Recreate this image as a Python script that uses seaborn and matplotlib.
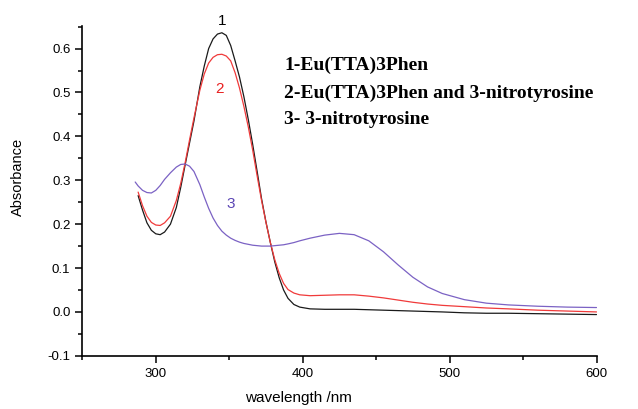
import numpy as np
import pandas as pd
import matplotlib
matplotlib.use("Agg")
import matplotlib.pyplot as plt
from matplotlib.ticker import MultipleLocator, FormatStrFormatter
import seaborn as sns

# Wavelength grid (nm) shared by the three spectra
wavelength = [286, 288, 291, 294, 297, 300, 303, 306, 310, 314, 317, 320, 323, 326,
              330, 333, 336, 339, 342, 345, 348, 351, 354, 357, 360, 363, 366, 369,
              372, 375, 378, 381, 384, 387, 390, 394, 398, 405, 415, 425, 435, 445,
              455, 465, 475, 485, 495, 510, 525, 540, 560, 580, 600]

# 1 - Eu(TTA)3Phen
abs_complex = [np.nan, 0.265, 0.232, 0.203, 0.186, 0.178, 0.176, 0.182, 0.200, 0.238,
               0.284, 0.335, 0.385, 0.435, 0.513, 0.560, 0.600, 0.622, 0.633, 0.636,
               0.630, 0.607, 0.572, 0.535, 0.490, 0.438, 0.381, 0.320, 0.258, 0.205,
               0.158, 0.114, 0.078, 0.050, 0.031, 0.017, 0.011, 0.007, 0.006, 0.006,
               0.006, 0.005, 0.004, 0.003, 0.002, 0.001, 0.000, -0.002, -0.003, -0.003,
               -0.004, -0.005, -0.006]

# 2 - Eu(TTA)3Phen and 3-nitrotyrosine
abs_mixture = [np.nan, 0.273, 0.242, 0.218, 0.204, 0.198, 0.197, 0.203, 0.218, 0.254,
               0.293, 0.340, 0.392, 0.442, 0.505, 0.542, 0.567, 0.580, 0.586, 0.587,
               0.583, 0.572, 0.545, 0.510, 0.468, 0.421, 0.368, 0.310, 0.254, 0.204,
               0.158, 0.119, 0.088, 0.065, 0.051, 0.043, 0.039, 0.037, 0.038, 0.039,
               0.039, 0.036, 0.032, 0.027, 0.022, 0.018, 0.015, 0.012, 0.009, 0.007,
               0.004, 0.002, 0.000]

# 3 - 3-nitrotyrosine
abs_nitro = [0.296, 0.287, 0.277, 0.272, 0.271, 0.277, 0.288, 0.302, 0.317, 0.330,
             0.336, 0.337, 0.332, 0.320, 0.290, 0.262, 0.236, 0.214, 0.197, 0.184,
             0.175, 0.168, 0.163, 0.159, 0.156, 0.154, 0.152, 0.151, 0.150, 0.150,
             0.150, 0.151, 0.152, 0.153, 0.155, 0.158, 0.162, 0.168, 0.175, 0.179,
             0.176, 0.162, 0.137, 0.107, 0.079, 0.057, 0.042, 0.028, 0.020, 0.016,
             0.013, 0.011, 0.010]

series_names = ["1", "2", "3"]
series_colors = ["#1a1a1a", "#f03a3a", "#7b62c4"]
legend_lines = ["1-Eu(TTA)3Phen",
                "2-Eu(TTA)3Phen and 3-nitrotyrosine",
                "3- 3-nitrotyrosine"]

frames = []
for name, values in zip(series_names, [abs_complex, abs_mixture, abs_nitro]):
    frames.append(pd.DataFrame({"wavelength": wavelength,
                                "absorbance": values,
                                "curve": name}))
df = pd.concat(frames, ignore_index=True).dropna()

sns.set_style("ticks")
plt.rcParams["font.family"] = ["Liberation Sans", "DejaVu Sans"]
plt.rcParams["text.color"] = "black"

fig = plt.figure(figsize=(6.38, 4.09), dpi=100)
ax = fig.add_axes([0.129, 0.130, 0.806, 0.806])

sns.lineplot(data=df, x="wavelength", y="absorbance", hue="curve",
             palette=dict(zip(series_names, series_colors)),
             linewidth=0.9, legend=False, ax=ax, sort=False)

ax.set_xlim(250, 600)
ax.set_ylim(-0.1, 0.651)
ax.xaxis.set_major_locator(MultipleLocator(100))
ax.xaxis.set_minor_locator(MultipleLocator(50))
ax.yaxis.set_major_locator(MultipleLocator(0.1))
ax.yaxis.set_minor_locator(MultipleLocator(0.05))
ax.yaxis.set_major_formatter(FormatStrFormatter("%.1f"))
ax.tick_params(which="major", direction="out", length=5, width=1.1,
               labelsize=9.5, colors="black")
ax.tick_params(which="minor", direction="out", length=3, width=1.1,
               colors="black")
for side in ["top", "right"]:
    ax.spines[side].set_visible(False)
for side in ["left", "bottom"]:
    ax.spines[side].set_linewidth(1.2)
    ax.spines[side].set_color("black")

ax.set_xlabel("")
ax.set_ylabel("")
ax.text(-0.125, 0.542, "Absorbance", transform=ax.transAxes, rotation=90,
        ha="center", va="center", fontsize=10.5)
ax.text(0.42, -0.128, "wavelength /nm", transform=ax.transAxes,
        ha="center", va="center", fontsize=11)

# Curve numbers next to the peaks
ax.text(345, 0.663, "1", color="black", ha="center", va="center",
        fontsize=11, clip_on=False)
ax.text(343.4, 0.509, "2", color="#e82020", ha="center", va="center", fontsize=11)
ax.text(350.7, 0.247, "3", color="#5a44b4", ha="center", va="center", fontsize=11)

# Key of the three spectra
for y, line in zip([65, 93, 119], legend_lines):
    fig.text(284 / 638, 1 - y / 409, line, ha="left", va="center",
             fontsize=14, fontweight="bold", color="black",
             family=["Liberation Serif", "DejaVu Serif"])

fig.savefig("out.png", dpi=100, facecolor="white")
